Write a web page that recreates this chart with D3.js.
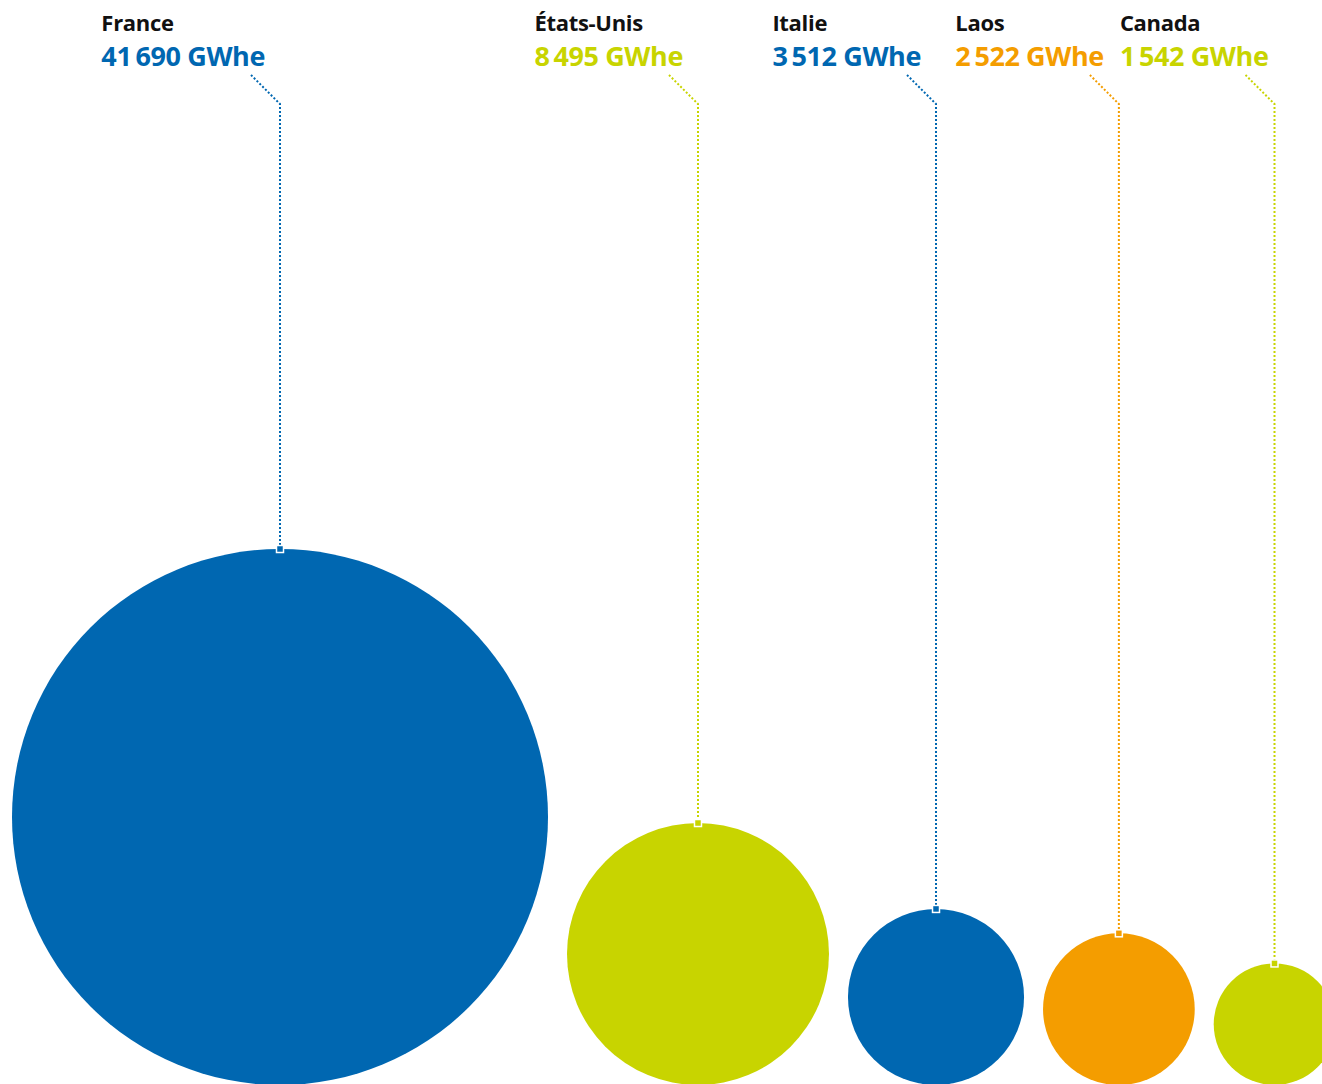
<!DOCTYPE html>
<html>
<head>
<meta charset="utf-8">
<script src="https://cdn.jsdelivr.net/npm/d3@7"></script>
<style>
  body { margin: 0; background: #fff; }
  svg { display: block; font-family: "Open Sans", sans-serif; }
  .name { font-weight: 700; font-size: 22px; fill: #111; letter-spacing: -0.3px; }
  .value { font-weight: 700; font-size: 27px; letter-spacing: -0.4px; }
</style>
</head>
<body>
<div id="chart"></div>
<script>
// data
var countries = ["France", "États-Unis", "Italie", "Laos", "Canada"];
var values = [41690, 8495, 3512, 2522, 1542];
var valueLabels = ["41\u2009690 GWhe", "8\u2009495 GWhe", "3\u2009512 GWhe", "2\u2009522 GWhe", "1\u2009542 GWhe"];
var colorKeys = ["blue", "lime", "blue", "orange", "lime"];

var width = 1322, height = 1084;
var baseline = 1085;   // circles sit on this line
var left = 12, gap = 19;

var palette = {blue: "#0067b1", lime: "#c8d400", orange: "#f49d00"};

// radius scale (a bit flatter than pure area)
var r = d3.scalePow().exponent(0.45)
    .domain([0, d3.max(values)])
    .range([0, 268]);

// lay circles side by side from the left
var nodes = [];
var x = left;
values.forEach(function(v, i){
  var rad = r(v);
  nodes.push({name: countries[i], label: valueLabels[i], color: palette[colorKeys[i]],
              r: rad, cx: x + rad, cy: baseline - rad});
  x += 2 * rad + gap;
});

var svg = d3.select("#chart").append("svg")
    .attr("width", width)
    .attr("height", height);

svg.selectAll("circle.bubble")
  .data(nodes)
  .enter().append("circle")
    .attr("class", "bubble")
    .attr("cx", function(d){ return d.cx; })
    .attr("cy", function(d){ return d.cy; })
    .attr("r", function(d){ return d.r; })
    .attr("fill", function(d){ return d.color; });

// dotted leader lines: diagonal from the label, then straight down to the circle top
svg.selectAll("path.leader")
  .data(nodes)
  .enter().append("path")
    .attr("class", "leader")
    .attr("fill", "none")
    .attr("stroke", function(d){ return d.color; })
    .attr("stroke-width", 2)
    .attr("stroke-dasharray", "2,2")
    .attr("d", function(d){
      return "M" + (d.cx - 29) + "," + 75 + "L" + d.cx + "," + 104 + "L" + d.cx + "," + (d.cy - d.r);
    });

// little square where the leader meets the circle
svg.selectAll("rect.tip")
  .data(nodes)
  .enter().append("rect")
    .attr("class", "tip")
    .attr("x", function(d){ return d.cx - 3.5; })
    .attr("y", function(d){ return d.cy - d.r - 3.5; })
    .attr("width", 7)
    .attr("height", 7)
    .attr("fill", function(d){ return d.color; })
    .attr("stroke", "#fff")
    .attr("stroke-width", 1.5);

var labels = svg.selectAll("g.label")
  .data(nodes)
  .enter().append("g")
    .attr("class", "label");

var valueText = labels.append("text")
    .attr("class", "value")
    .attr("y", 66)
    .attr("fill", function(d){ return d.color; })
    .text(function(d){ return d.label; });

// place each label to end a bit left of its leader, pushing right if it hits the previous one
var lastEnd = -Infinity;
valueText.each(function(d){
  var w = this.getComputedTextLength();
  d.lx = Math.max(d.cx - 15 - w, lastEnd + 16);
  lastEnd = d.lx + w;
});
valueText.attr("x", function(d){ return d.lx; });

// country name starts where the value starts
labels.append("text")
    .attr("class", "name")
    .attr("y", 31)
    .attr("x", function(d){ return d.lx; })
    .text(function(d){ return d.name; });
</script>
</body>
</html>
